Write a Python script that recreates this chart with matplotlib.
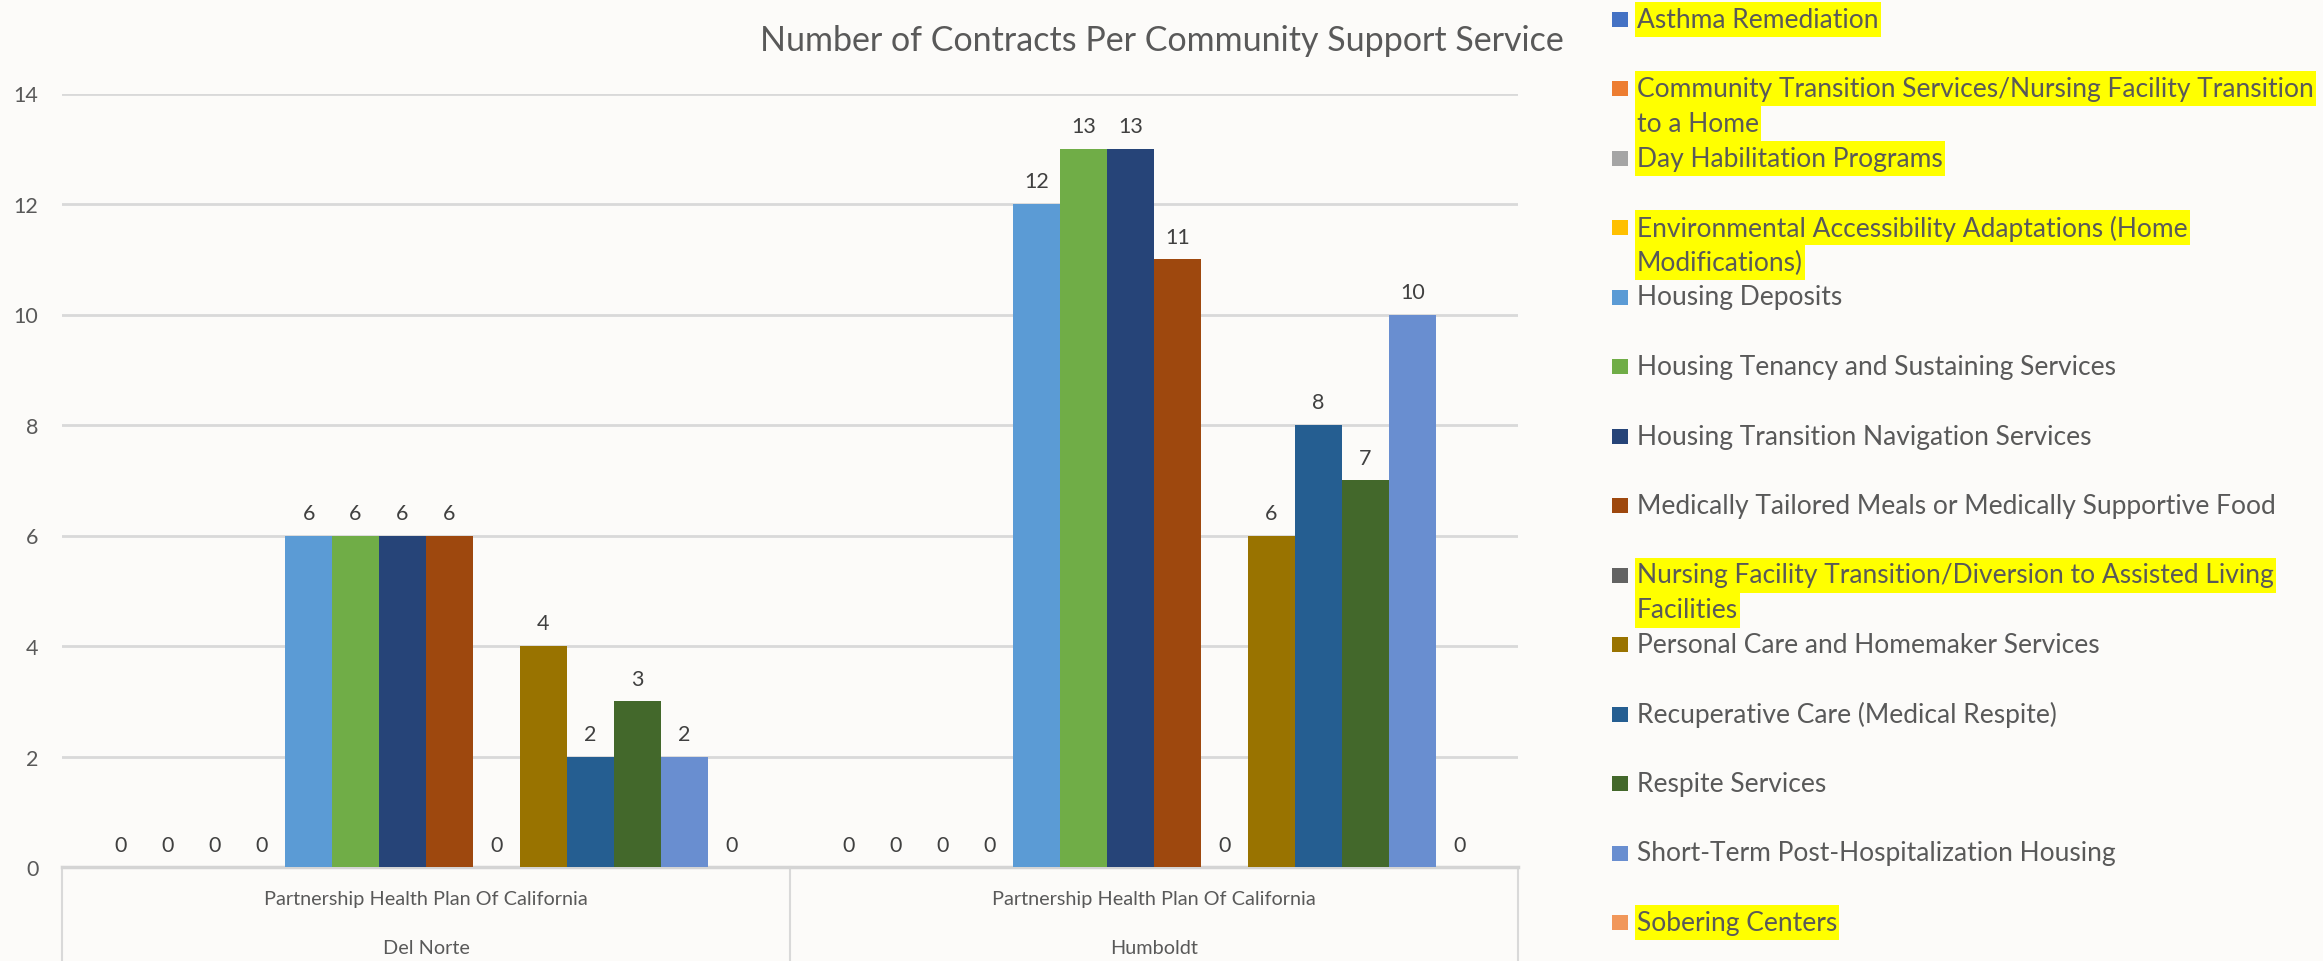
import matplotlib
matplotlib.use("Agg")
import matplotlib.pyplot as plt
import numpy as np
from matplotlib.patches import Rectangle
import matplotlib.transforms as mtransforms

plt.rcParams['font.family'] = ['Lato', 'DejaVu Sans']

# ---------------- data ----------------
counties = ["Del Norte", "Humboldt"]
plans = ["Partnership Health Plan Of California", "Partnership Health Plan Of California"]
services = [
    "Asthma Remediation",
    "Community Transition Services/Nursing Facility Transition\nto a Home",
    "Day Habilitation Programs",
    "Environmental Accessibility Adaptations (Home\nModifications)",
    "Housing Deposits",
    "Housing Tenancy and Sustaining Services",
    "Housing Transition Navigation Services",
    "Medically Tailored Meals or Medically Supportive Food",
    "Nursing Facility Transition/Diversion to Assisted Living\nFacilities",
    "Personal Care and Homemaker Services",
    "Recuperative Care (Medical Respite)",
    "Respite Services",
    "Short-Term Post-Hospitalization Housing",
    "Sobering Centers",
]
del_norte = [0, 0, 0, 0, 6, 6, 6, 6, 0, 4, 2, 3, 2, 0]
humboldt = [0, 0, 0, 0, 12, 13, 13, 11, 0, 6, 8, 7, 10, 0]
highlighted = [True, True, True, True, False, False, False, False, True,
               False, False, False, False, True]
colors = ["#4472C4", "#ED7D31", "#A5A5A5", "#FFC000", "#5B9BD5", "#70AD47",
          "#264478", "#9E480E", "#636363", "#997300", "#255E91", "#43682B",
          "#698ED0", "#F1975A"]
title = "Number of Contracts Per Community Support Service"
yticks = [0, 2, 4, 6, 8, 10, 12, 14]

# ---------------- layout ----------------
W, H = 2323, 962
BG = "#fcfbf9"
TXT = "#595959"
GRID = "#d9d9d9"

fig = plt.figure(figsize=(W / 100, H / 100), dpi=100, facecolor=BG)
ax_left, ax_right, ax_top, ax_bot = 62, 1518, 94.5, 868
ax = fig.add_axes([ax_left / W, 1 - ax_bot / H, (ax_right - ax_left) / W, (ax_bot - ax_top) / H])
ax.set_facecolor(BG)

values = np.array([del_norte, humboldt]).T  # shape (14, 2)
n = len(services)
x = np.arange(len(counties))
width = 1 / (n + 1.5)
for i in range(n):
    bars = ax.bar(x + (i - (n - 1) / 2) * width, values[i], width,
                  color=colors[i], zorder=3, linewidth=0)
    ax.bar_label(bars, padding=9, fontsize=15.5, color="#404040")

ax.set_xlim(-0.5, len(counties) - 0.5)
ax.set_ylim(0, 14)
ax.set_yticks(yticks)
ax.tick_params(axis='y', length=0, pad=17, labelsize=15.5, labelcolor=TXT)
ax.set_xticks([])
ax.yaxis.grid(True, color=GRID, linewidth=2, zorder=0)
for s in ["top", "right", "left"]:
    ax.spines[s].set_visible(False)
ax.spines["bottom"].set_color("#d4d4d4")
ax.spines["bottom"].set_linewidth(2.5)

# category box below axis
trans = mtransforms.blended_transform_factory(ax.transData, ax.transAxes)
depth = (H - ax_bot) / (ax_bot - ax_top)
for xv in np.arange(len(counties) + 1) - 0.5:
    ax.plot([xv, xv], [0, -depth], transform=trans, color=GRID, lw=1.5, clip_on=False)
for xi, (p, c) in enumerate(zip(plans, counties)):
    ax.text(xi, -(900 - ax_bot) / (ax_bot - ax_top), p, transform=trans,
            ha='center', va='center', fontsize=14.3, color=TXT)
    ax.text(xi, -(948 - ax_bot) / (ax_bot - ax_top), c, transform=trans,
            ha='center', va='center', fontsize=14.3, color=TXT)

# title
fig.text(0.5, 1 - 41 / H, title, ha='center', va='center', fontsize=24.5, color=TXT)

# legend (manual, Excel-style)
LEG_TOP, LEG_STEP, LINE_STEP = 20, 69.5, 35
MK_X, MK_W, MK_H = 1612, 16, 15
TX_X = 1637
line_texts = []
for i, (lab, col, hl) in enumerate(zip(services, colors, highlighted)):
    yc = LEG_TOP + i * LEG_STEP
    fig.patches.append(Rectangle((MK_X / W, 1 - (yc + MK_H / 2) / H), MK_W / W, MK_H / H,
                                 transform=fig.transFigure, facecolor=col, edgecolor='none'))
    for j, ln in enumerate(lab.split("\n")):
        yl = yc + j * LINE_STEP
        t = fig.text(TX_X / W, 1 - yl / H, ln, ha='left', va='center', fontsize=19,
                     color=TXT, zorder=3)
        if hl:
            line_texts.append((t, yl))

fig.canvas.draw()
r = fig.canvas.get_renderer()
for t, yl in line_texts:
    bb = t.get_window_extent(renderer=r)
    x0 = bb.x0 - 2
    x1 = bb.x1 + 2
    fig.patches.append(Rectangle((x0 / W, 1 - (yl + 17.5) / H), (x1 - x0) / W, 35 / H,
                                 transform=fig.transFigure, facecolor="#FFFF00",
                                 edgecolor='none', zorder=1))

fig.savefig("out.png", dpi=100, facecolor=BG)
